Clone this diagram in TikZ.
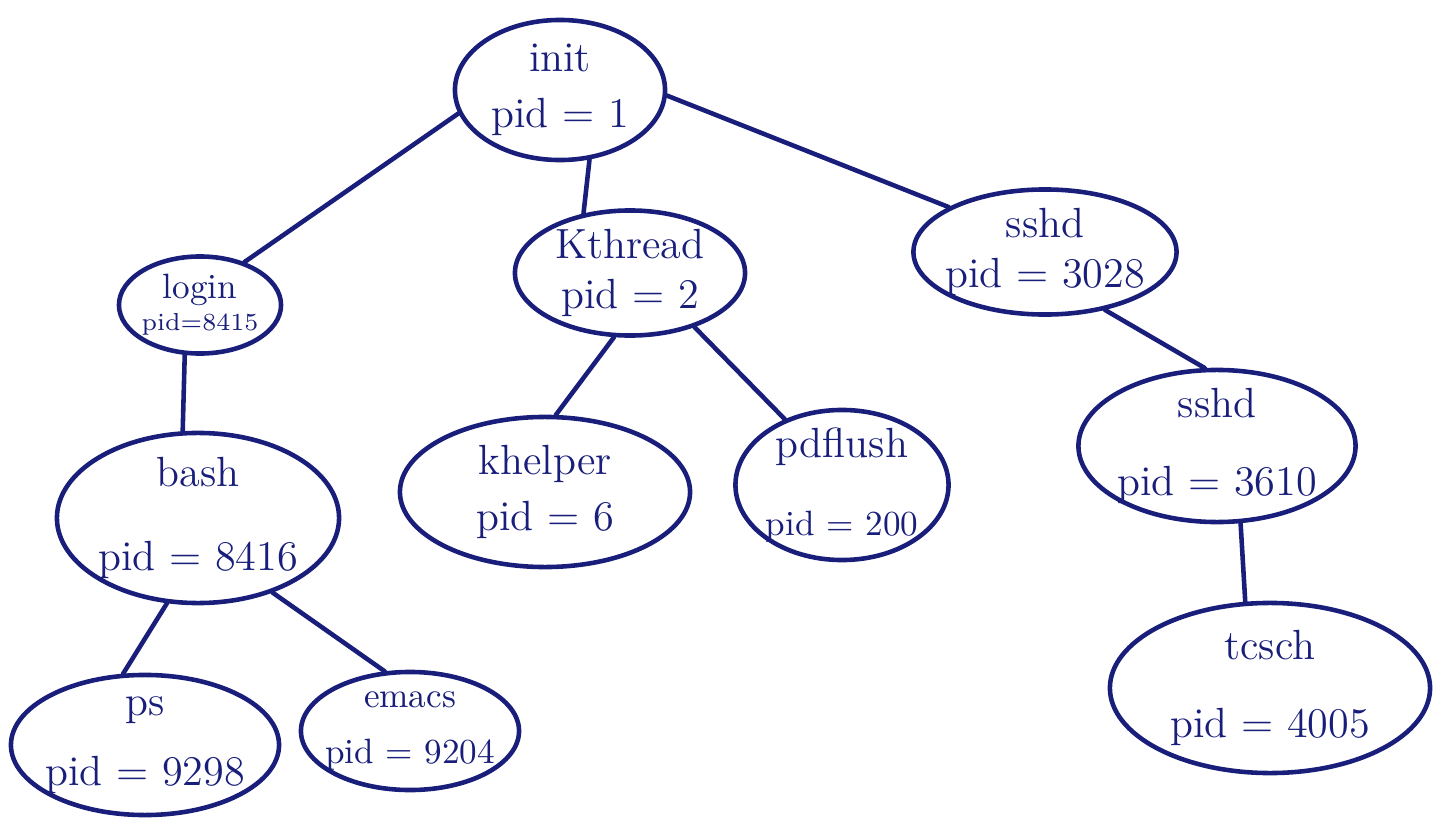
\documentclass[tikz,border=0pt]{standalone}
\usetikzlibrary{shapes.geometric}
\definecolor{ink}{RGB}{24,30,122}

\begin{document}
\begin{tikzpicture}[x=0.01cm,y=-0.01cm,
    proc/.style={draw=ink,text=ink,ellipse,line width=1.3pt,inner sep=-10pt,align=center,font=\large},
    link/.style={draw=ink,line width=1.3pt,line cap=round}]
  \useasboundingbox (0,0) rectangle (1444,818);
  % process tree
  \node[proc,minimum width=2.1cm,minimum height=1.4cm] (init) at (560,90) {init\\[2pt]pid = 1};
  \node[proc,minimum width=2.3cm,minimum height=1.25cm] (kthread) at (630,273) {Kthread\\pid = 2};
  \node[proc,minimum width=2.63cm,minimum height=1.25cm] (sshdA) at (1045,252) {sshd\\pid = 3028};
  \node[proc,minimum width=1.62cm,minimum height=0.97cm,font=\normalsize] (login) at (200,305) {login\\[-3pt]{\scriptsize pid=8415}};
  \node[proc,minimum width=2.82cm,minimum height=1.7cm] (bash) at (198,518) {bash\\[10pt]pid = 8416};
  \node[proc,minimum width=2.9cm,minimum height=1.5cm] (khelper) at (545,492) {khelper\\[2pt]pid = 6};
  \node[proc,minimum width=2.13cm,minimum height=1.5cm] (pdflush) at (842,485) {pdflush\\[8pt]{\normalsize pid = 200}};
  \node[proc,minimum width=2.77cm,minimum height=1.52cm] (sshdB) at (1217,446) {sshd\\[8pt]pid = 3610};
  \node[proc,minimum width=3.2cm,minimum height=1.7cm] (tcsch) at (1270,688) {tcsch\\[8pt]pid = 4005};
  \node[proc,minimum width=2.68cm,minimum height=1.4cm] (ps) at (145,745) {ps\\[6pt]pid = 9298};
  \node[proc,minimum width=2.18cm,minimum height=1.18cm,font=\normalsize] (emacs) at (410,731) {emacs\\[4pt]pid = 9204};
  % parent -- child links
  \foreach \a/\p/\b/\q in {init/-167/login/44, init/-67/kthread/128, init/-3/sshdA/155,
      login/-107/bash/100, bash/-110/ps/107, bash/-45/emacs/113,
      kthread/-104/khelper/82, kthread/-40/pdflush/131,
      sshdA/-44/sshdB/99, sshdB/-73/tcsch/106}
    \draw[link] (\a.\p) -- (\b.\q);
\end{tikzpicture}
\end{document}
